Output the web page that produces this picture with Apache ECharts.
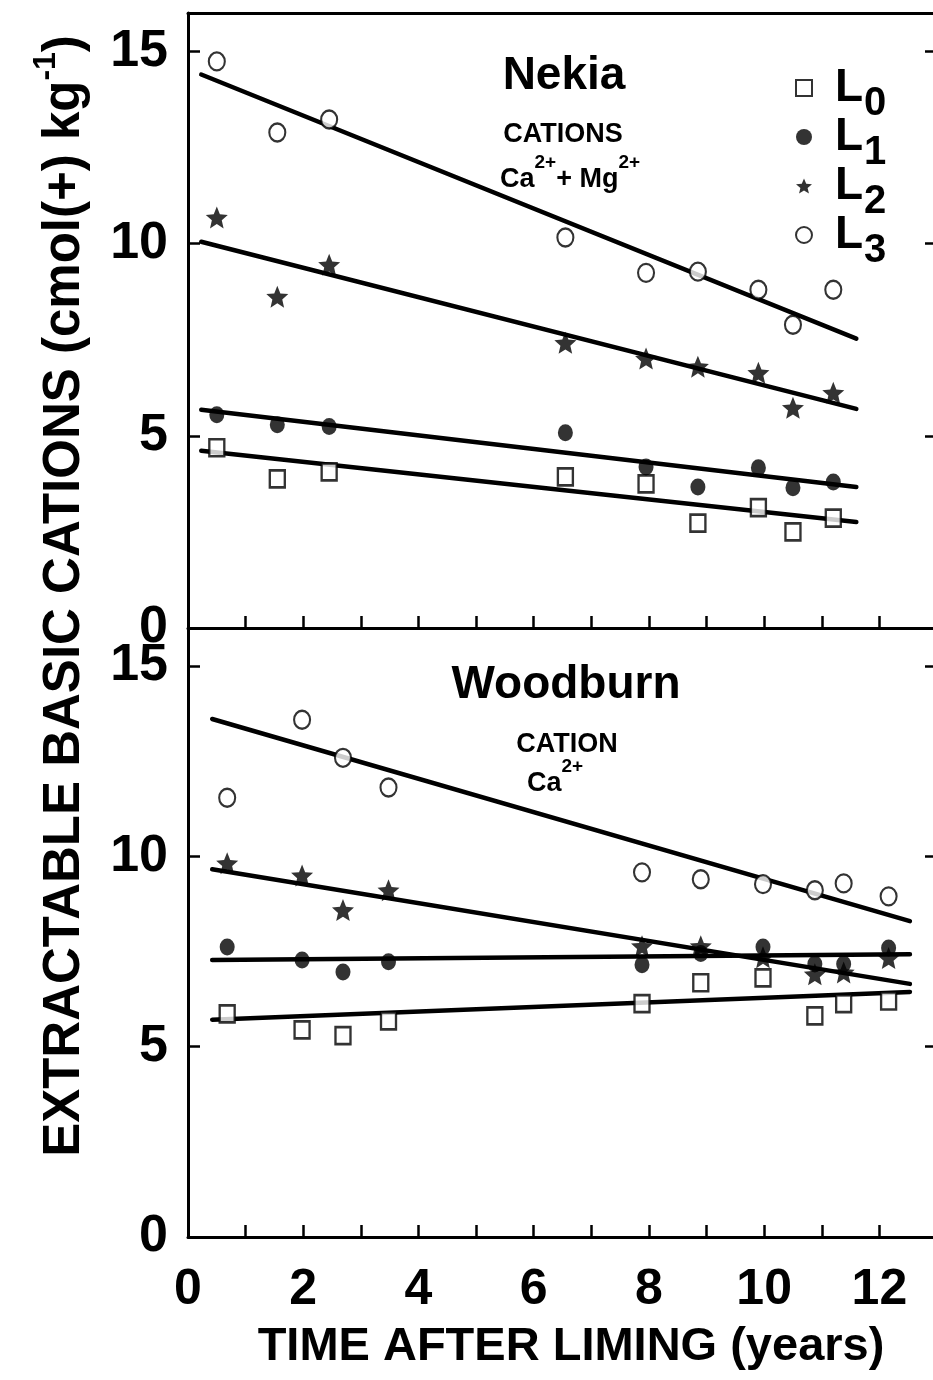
<!DOCTYPE html>
<html><head><meta charset="utf-8">
<script src="https://cdn.jsdelivr.net/npm/echarts@6/dist/echarts.min.js"></script>
<style>html,body{margin:0;padding:0;background:#fff}#c{width:933px;height:1380px}</style>
</head><body><div id="c"></div>
<script>
// ---------- data ----------
const seriesNames = ['L0', 'L1', 'L2', 'L3'];

const nekiaYears = [0.5, 1.55, 2.45, 6.55, 7.95, 8.85, 9.9, 10.5, 11.2];
const nekiaL0 = [4.69, 3.88, 4.06, 3.93, 3.75, 2.73, 3.13, 2.50, 2.86];
const nekiaL1 = [5.55, 5.29, 5.24, 5.08, 4.19, 3.67, 4.17, 3.65, 3.80];
const nekiaL2 = [10.68, 8.62, 9.45, 7.42, 7.01, 6.80, 6.64, 5.73, 6.12];
const nekiaL3 = [14.74, 12.89, 13.23, 10.16, 9.24, 9.27, 8.80, 7.89, 8.80];
const nekiaFitYears = [0.23, 11.6];
const nekiaFitL0 = [4.61, 2.76];
const nekiaFitL1 = [5.68, 3.67];
const nekiaFitL2 = [10.05, 5.70];
const nekiaFitL3 = [14.40, 7.53];

const woodburnYears = [0.68, 1.98, 2.69, 3.48, 7.88, 8.9, 9.98, 10.88, 11.38, 12.16];
const woodburnL0 = [5.86, 5.44, 5.29, 5.68, 6.13, 6.68, 6.81, 5.81, 6.13, 6.20];
const woodburnL1 = [7.62, 7.28, 6.96, 7.23, 7.15, 7.45, 7.62, 7.17, 7.17, 7.59];
const woodburnL2 = [9.82, 9.50, 8.59, 9.11, 7.64, 7.64, 7.35, 6.90, 6.95, 7.33];
const woodburnL3 = [11.54, 13.59, 12.59, 11.81, 9.58, 9.40, 9.27, 9.11, 9.29, 8.95];
const woodburnFitYears = [0.42, 12.53];
const woodburnFitL0 = [5.71, 6.44];
const woodburnFitL1 = [7.28, 7.43];
const woodburnFitL2 = [9.66, 6.65];
const woodburnFitL3 = [13.61, 8.30];

const xTickLabels = ['0', '2', '4', '6', '8', '10', '12'];
const yTickLabels = ['0', '5', '10', '15'];

// ---------- styling ----------
const FONT = "'Liberation Sans', Arial, Helvetica, sans-serif";
const STAR = 'path://M0,-10L2.65,-3.64L9.51,-3.09L4.28,1.39L5.88,8.09L0,4.5L-5.88,8.09L-4.28,1.39L-9.51,-3.09L-2.65,-3.64Z';
const markerStyle = {
  L0: { symbol: 'rect', symbolSize: [15, 17], itemStyle: { color: '#fff', borderColor: '#000', borderWidth: 2.5 } },
  L1: { symbol: 'circle', symbolSize: [15, 17], itemStyle: { color: '#000', borderColor: '#000', borderWidth: 0 } },
  L2: { symbol: STAR, symbolSize: [22, 22], itemStyle: { color: '#000', borderColor: '#000', borderWidth: 0 } },
  L3: { symbol: 'circle', symbolSize: [16, 18], itemStyle: { color: '#fff', borderColor: '#000', borderWidth: 2.2 } }
};

const zip = (xs, ys) => xs.map((x, i) => [x, ys[i]]);

const panels = [
  { years: nekiaYears, vals: [nekiaL0, nekiaL1, nekiaL2, nekiaL3], fitX: nekiaFitYears, fits: [nekiaFitL0, nekiaFitL1, nekiaFitL2, nekiaFitL3] },
  { years: woodburnYears, vals: [woodburnL0, woodburnL1, woodburnL2, woodburnL3], fitX: woodburnFitYears, fits: [woodburnFitL0, woodburnFitL1, woodburnFitL2, woodburnFitL3] }
];

const series = [];
panels.forEach((p, gi) => {
  seriesNames.forEach((name, si) => {
    series.push({
      name: name + ' fit', type: 'line', xAxisIndex: gi, yAxisIndex: gi * 2,
      data: zip(p.fitX, p.fits[si]), symbol: 'none', silent: true,
      lineStyle: { color: '#000', width: 4.5, cap: 'round' }, z: 2
    });
  });
  seriesNames.forEach((name, si) => {
    series.push(Object.assign({
      name: name, type: 'scatter', xAxisIndex: gi, yAxisIndex: gi * 2,
      data: zip(p.years, p.vals[si]), z: 3
    }, markerStyle[name]));
  });
});

function xAxis(gi, showLabels) {
  return {
    gridIndex: gi, type: 'value', min: 0, max: 13, interval: 1, position: 'bottom',
    axisLine: { show: true, onZero: false, lineStyle: { color: '#000', width: 3 } },
    axisTick: { show: true, inside: true, length: 12, lineStyle: { color: '#000', width: 2.5 } },
    axisLabel: {
      show: showLabels, margin: 28, color: '#000', fontFamily: FONT, fontWeight: 'bold', fontSize: 50,
      formatter: v => xTickLabels.includes(String(v)) ? String(v) : ''
    },
    splitLine: { show: false }
  };
}
function yAxis(gi, right) {
  return {
    gridIndex: gi, type: 'value', min: 0, max: 16, interval: 5,
    position: right ? 'right' : 'left',
    axisLine: { show: !right, onZero: false, lineStyle: { color: '#000', width: 3 } },
    axisTick: { show: true, inside: true, length: 12, lineStyle: { color: '#000', width: 2.5 } },
    axisLabel: {
      show: !right, margin: 20, color: '#000', fontFamily: FONT, fontWeight: 'bold', fontSize: 52,
      formatter: v => yTickLabels.includes(String(v)) ? String(v) : ''
    },
    splitLine: { show: false }
  };
}
// top border of the upper panel: a bare axis line
const topBorder = {
  gridIndex: 0, type: 'value', min: 0, max: 13, position: 'top',
  axisLine: { show: true, onZero: false, lineStyle: { color: '#000', width: 3 } },
  axisTick: { show: false }, axisLabel: { show: false }, splitLine: { show: false }
};

const option = {
  backgroundColor: '#fff',
  animation: false,
  grid: [
    { left: 188, top: 13, width: 749, height: 615, outerBoundsMode: 'none', containLabel: false, show: false },
    { left: 188, top: 628, width: 749, height: 609, outerBoundsMode: 'none', containLabel: false, show: false }
  ],
  xAxis: [xAxis(0, false), xAxis(1, true), topBorder],
  yAxis: [yAxis(0, false), yAxis(0, true), yAxis(1, false), yAxis(1, true)],
  legend: {
    data: seriesNames, orient: 'vertical', left: 790, top: 47,
    itemWidth: 16, itemHeight: 16, itemGap: -23, selectedMode: false,
    formatter: n => '{a|L}{b|' + n.slice(1) + '}',
    textStyle: {
      rich: {
        a: { fontFamily: FONT, fontWeight: 'bold', fontSize: 46, lineHeight: 34, padding: [0, 0, 0, 18], color: '#000' },
        b: { fontFamily: FONT, fontWeight: 'bold', fontSize: 40, lineHeight: 34, padding: [32, 0, 0, 1], color: '#000' }
      }
    }
  },
  graphic: [
    { type: 'text', x: 60, y: 596, rotation: Math.PI / 2, style: {
        text: '{t|EXTRACTABLE BASIC CATIONS (cmol(+) kg}{s|-1}{t|)}', align: 'center', verticalAlign: 'middle',
        rich: {
          t: { fontFamily: FONT, fontWeight: 'bold', fontSize: 51, lineHeight: 60, verticalAlign: 'bottom', fill: '#000' },
          s: { fontFamily: FONT, fontWeight: 'bold', fontSize: 32, lineHeight: 30, verticalAlign: 'top', fill: '#000' }
        } } },
    { type: 'text', x: 571, y: 1347, style: { text: 'TIME AFTER LIMING (years)', font: 'bold 47px ' + FONT, fill: '#000', align: 'center', verticalAlign: 'middle' } },
    { type: 'text', x: 564, y: 76, style: { text: 'Nekia', font: 'bold 46px ' + FONT, fill: '#000', align: 'center', verticalAlign: 'middle' } },
    { type: 'text', x: 563, y: 135, style: { text: 'CATIONS', font: 'bold 27px ' + FONT, fill: '#000', align: 'center', verticalAlign: 'middle' } },
    { type: 'text', x: 570, y: 173, style: {
        text: '{n|Ca}{s|2+}{n|+ Mg}{s|2+}', align: 'center', verticalAlign: 'middle',
        rich: {
          n: { fontFamily: FONT, fontWeight: 'bold', fontSize: 27, lineHeight: 40, verticalAlign: 'bottom', fill: '#000' },
          s: { fontFamily: FONT, fontWeight: 'bold', fontSize: 19, lineHeight: 19, verticalAlign: 'top', fill: '#000' }
        } } },
    { type: 'text', x: 566, y: 685, style: { text: 'Woodburn', font: 'bold 46px ' + FONT, fill: '#000', align: 'center', verticalAlign: 'middle' } },
    { type: 'text', x: 567, y: 745, style: { text: 'CATION', font: 'bold 27px ' + FONT, fill: '#000', align: 'center', verticalAlign: 'middle' } },
    { type: 'text', x: 555, y: 777, style: {
        text: '{n|Ca}{s|2+}', align: 'center', verticalAlign: 'middle',
        rich: {
          n: { fontFamily: FONT, fontWeight: 'bold', fontSize: 27, lineHeight: 40, verticalAlign: 'bottom', fill: '#000' },
          s: { fontFamily: FONT, fontWeight: 'bold', fontSize: 19, lineHeight: 19, verticalAlign: 'top', fill: '#000' }
        } } }
  ],
  series: series
};

const chart = echarts.init(document.getElementById('c'), null, { renderer: 'canvas' });
chart.setOption(option);
</script>
</body></html>
